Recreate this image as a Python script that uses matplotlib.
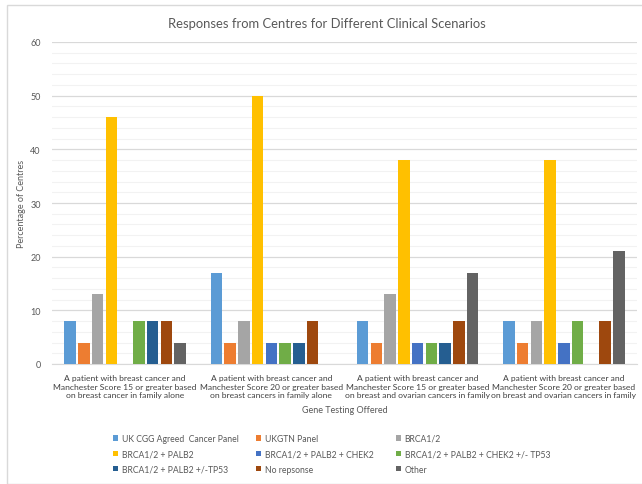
import numpy as np
import matplotlib
matplotlib.use("Agg")
import matplotlib.pyplot as plt
from matplotlib.patches import Rectangle

plt.rcParams['font.family'] = ['Lato', 'DejaVu Sans']

scenarios = [
    "A patient with breast cancer and\nManchester Score 15 or greater based\non breast cancer in family alone",
    "A patient with breast cancer and\nManchester Score 20 or greater based\non breast cancers in family alone",
    "A patient with breast cancer and\nManchester Score 15 or greater based\non breast and ovarian cancers in family",
    "A patient with breast cancer and\nManchester Score 20 or greater based\non breast and ovarian cancers in family",
]

series_names = [
    "UK CGG Agreed  Cancer Panel",
    "UKGTN Panel",
    "BRCA1/2",
    "BRCA1/2 + PALB2",
    "BRCA1/2 + PALB2 + CHEK2",
    "BRCA1/2 + PALB2 + CHEK2 +/- TP53",
    "BRCA1/2 + PALB2 +/-TP53",
    "No repsonse",
    "Other",
]

# percentage of centres, one list per series (4 scenarios each)
uk_cgg = [8, 17, 8, 8]
ukgtn = [4, 4, 4, 4]
brca = [13, 8, 13, 8]
brca_palb2 = [46, 50, 38, 38]
brca_palb2_chek2 = [0, 4, 4, 4]
brca_palb2_chek2_tp53 = [8, 4, 4, 8]
brca_palb2_tp53 = [8, 4, 4, 0]
no_response = [8, 8, 8, 8]
other = [4, 0, 17, 21]

values = [uk_cgg, ukgtn, brca, brca_palb2, brca_palb2_chek2,
          brca_palb2_chek2_tp53, brca_palb2_tp53, no_response, other]

colors = ['#5B9BD5', '#ED7D31', '#A5A5A5', '#FFC000', '#4472C4',
          '#70AD47', '#255E91', '#9E480E', '#636363']

fig = plt.figure(figsize=(6.42, 4.85), dpi=100)
ax = fig.add_axes([52 / 642, 1 - 365 / 485, 585 / 642, 322 / 485])

x = np.arange(len(scenarios))
slot = 0.094
bw = 0.079
handles = []
for i, (vals, c) in enumerate(zip(values, colors)):
    b = ax.bar(x + (i - 4) * slot, vals, width=bw, color=c, label=series_names[i], zorder=3)
    handles.append(b)

ax.set_xlim(-0.5, 3.5)
ax.set_ylim(0, 60)
ax.set_yticks(np.arange(0, 61, 10))
ax.set_yticks(np.arange(0, 61, 2), minor=True)
ax.grid(axis='y', which='major', color='#D9D9D9', lw=0.9, zorder=0)
ax.grid(axis='y', which='minor', color='#F2F2F2', lw=0.8, zorder=0)
ax.tick_params(axis='y', which='both', length=0, labelsize=6.5, labelcolor='#595959', pad=8)
ax.set_xticks(x)
ax.set_xticklabels(scenarios, fontsize=6.1, color='#404040', linespacing=1.3)
ax.tick_params(axis='x', length=0, pad=7)
for s in ['top', 'right', 'left']:
    ax.spines[s].set_visible(False)
ax.spines['bottom'].set_color('#D9D9D9')

ax.set_ylabel("Percentage of Centres", fontsize=6.5, color='#595959', labelpad=3)
ax.set_xlabel("Gene Testing Offered", fontsize=6.5, color='#595959', labelpad=5)
fig.suptitle("Responses from Centres for Different Clinical Scenarios",
             fontsize=9.4, color='#595959', x=(169 + 484) / 2 / 642, y=1 - 24 / 485, va='center')

# legend in three columns, filled row by row like the original
col_x = [113 / 642, 256 / 642, 396 / 642]
for k in range(3):
    hs = handles[k::3]
    ls = series_names[k::3]
    fig.legend(hs, ls, loc='upper left', bbox_to_anchor=(col_x[k], 1 - 435 / 485),
               frameon=False, fontsize=6.2, labelcolor='#595959', handlelength=0.55,
               handleheight=0.55, handletextpad=0.45, labelspacing=0.75, borderaxespad=0,
               borderpad=0)

fig.patches.append(Rectangle((7 / 642, 0), 1, 1 - 6 / 485, transform=fig.transFigure,
                             fill=False, edgecolor='#D9D9D9', lw=1))

fig.savefig("out.png", dpi=100)
